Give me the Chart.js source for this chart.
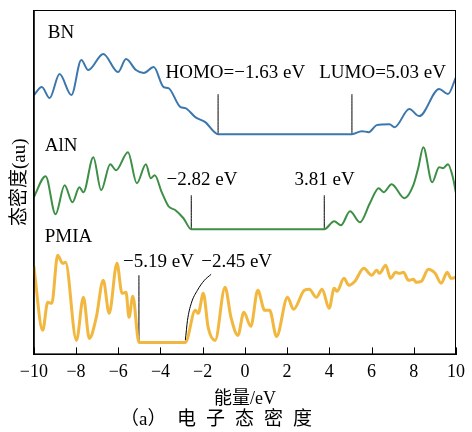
<!DOCTYPE html>
<html>
<head>
<meta charset="utf-8">
<script src="https://cdn.jsdelivr.net/npm/chart.js@4.4.1/dist/chart.umd.min.js"></script>
<style>
  html, body { margin: 0; padding: 0; background: #fff; }
</style>
</head>
<body>
<canvas id="dos" width="472" height="432"></canvas>
<script>
// energies (eV) and density of states (arbitrary units, curves stacked)
const bnE = [-10, -9.62, -9.25, -8.78, -8.22, -7.75, -7.42, -6.71, -6.01, -5.63, -5.16, -4.79, -4.32, -3.85, -3.62, -3.05, -2.82, -2.35, -1.88, -1.27, 5.07, 5.54, 5.87, 6.24, 6.85, 7.09, 7.79, 8.26, 9.20, 9.62, 10];
const bnDos = [259, 267, 256, 280, 259, 294, 284, 300, 282, 295, 284, 281, 287, 267, 266, 247, 246, 237, 232, 220, 220, 223, 222, 229, 230, 227, 245, 238, 265, 260, 277];

const alnE = [-10, -9.44, -8.97, -8.54, -8.17, -7.84, -7.65, -7.18, -6.81, -6.38, -6.10, -5.54, -5.12, -4.69, -4.46, -4.27, -3.94, -3.62, -3.29, -2.91, -2.54, 3.76, 4.23, 4.55, 4.98, 5.45, 5.92, 6.34, 6.57, 6.95, 7.56, 7.98, 8.22, 8.45, 8.87, 9.20, 9.39, 9.62, 9.86, 10];
const alnDos = [157, 178, 140, 169, 152, 167, 162, 197, 164, 190, 184, 202, 171, 190, 176, 179, 162, 148, 144, 136, 125, 125, 133, 129, 143, 132, 151, 166, 162, 170, 156, 169, 187, 207, 172, 187, 186, 190, 176, 161];

const pmiaE = [-10, -9.58, -9.34, -9.15, -8.87, -8.64, -8.50, -7.98, -7.65, -7.37, -7.04, -6.71, -6.43, -6.06, -5.82, -5.63, -5.49, -5.31, -5.02, -2.82, -2.35, -2.21, -1.97, -1.74, -1.41, -0.94, -0.66, -0.33, -0.05, 0.28, 0.61, 0.94, 1.17, 1.50, 2.02, 2.30, 2.82, 3.05, 3.38, 3.66, 3.99, 4.23, 4.37, 4.69, 4.93, 5.21, 5.63, 6.01, 6.24, 6.38, 6.67, 6.90, 7.14, 7.32, 7.51, 7.75, 7.98, 8.12, 8.36, 8.69, 9.01, 9.30, 9.58, 9.77, 10];
const pmiaDos = [88, 24, 52, 51, 99, 91, 92, 14, 57, 16, 37, 74, 41, 91, 61, 62, 37, 58, 12, 12, 44, 41, 61, 27, 14, 67, 37, 19, 42, 28, 64, 44, 44, 18, 57, 45, 64, 65, 57, 65, 46, 66, 63, 76, 69, 73, 86, 79, 84, 81, 89, 76, 82, 81, 82, 74, 75, 72, 73, 85, 81, 71, 82, 76, 77];

// HOMO / LUMO marker lines
const markE = [-1.27, 5.07, -2.54, 3.76, -5.02];
const markLow = [220, 220, 125, 125, 12];
const markHigh = [260, 260, 159, 159, 79];
const pmiaLumoE = [-2.82, -2.72, -2.54, -2.25, -1.92, -1.60];
const pmiaLumoDos = [14, 34, 51, 64, 74, 80];

// text labels
const labelText = ['BN', 'HOMO=\u22121.63 eV', 'LUMO=5.03 eV', 'AlN', '\u22122.82 eV', '3.81 eV', 'PMIA', '\u22125.19 eV', '\u22122.45 eV'];
const labelE = [-9.34, -3.76, 3.52, -9.48, -3.71, 2.35, -9.48, -5.77, -2.07];
const labelDos = [321, 281, 281, 208, 174, 174, 117, 92, 92];

const FONT = "'Liberation Serif', 'Noto Sans CJK SC', serif";

function pts(xs, ys) {
    return xs.map((x, i) => ({ x: x, y: ys[i] }));
}

const datasets = [
    { data: pts(bnE, bnDos), borderColor: '#3b77ad', borderWidth: 2 },
    { data: pts(alnE, alnDos), borderColor: '#3d8f45', borderWidth: 2 },
    { data: pts(pmiaE, pmiaDos), borderColor: '#f2b73e', borderWidth: 3 }
];
markE.forEach((e, i) => {
    datasets.push({ data: [{ x: e, y: markLow[i] }, { x: e, y: markHigh[i] }], borderColor: '#000', borderWidth: 1 });
});
datasets.push({ data: pts(pmiaLumoE, pmiaLumoDos), borderColor: '#000', borderWidth: 1 });

const decor = {
    id: 'decor',
    afterDraw(chart) {
        const ctx = chart.ctx;
        const a = chart.chartArea;
        const xs = chart.scales.x, ys = chart.scales.y;
        ctx.save();
        ctx.strokeStyle = '#000';
        ctx.lineWidth = 1;
        ctx.strokeRect(a.left + 0.5, a.top + 0.5, a.right - a.left - 1, a.bottom - a.top - 1);
        // inward tick marks
        ctx.beginPath();
        xs.ticks.forEach(t => {
            const px = Math.round(xs.getPixelForValue(t.value)) + 0.5;
            ctx.moveTo(px, a.bottom);
            ctx.lineTo(px, a.bottom - 7);
        });
        ctx.stroke();
        // annotations
        ctx.fillStyle = '#000';
        ctx.font = '19px ' + FONT;
        ctx.textAlign = 'left';
        ctx.textBaseline = 'middle';
        labelText.forEach((s, i) => {
            ctx.fillText(s, xs.getPixelForValue(labelE[i]), ys.getPixelForValue(labelDos[i]));
        });
        // caption
        ctx.font = '19px ' + FONT;
        ctx.fillText('\uff08a\uff09', 120, 420);
        ctx.letterSpacing = '10px';
        ctx.fillText('\u7535\u5b50\u6001\u5bc6\u5ea6', 177, 420);
        ctx.restore();
    }
};

new Chart(document.getElementById('dos'), {
    type: 'line',
    data: { datasets: datasets },
    options: {
        responsive: false,
        animation: false,
        layout: { padding: { left: 5, right: 10, top: 10, bottom: 24 } },
        elements: { point: { radius: 0 }, line: { cubicInterpolationMode: 'monotone' } },
        plugins: { legend: { display: false }, tooltip: { enabled: false } },
        scales: {
            x: {
                type: 'linear', min: -10, max: 10,
                grid: { display: false, drawTicks: false },
                border: { display: true, color: '#000', width: 1 },
                ticks: {
                    stepSize: 2, color: '#000', padding: 7, maxRotation: 0,
                    font: { family: FONT, size: 18 },
                    callback: v => String(v).replace('-', '\u2212')
                },
                title: {
                    display: true, text: '能量/eV', color: '#000',
                    font: { family: FONT, size: 18, lineHeight: 1 },
                    padding: { top: 0, bottom: 0 }
                }
            },
            y: {
                min: 0, max: 344,
                grid: { display: false, drawTicks: false },
                border: { display: true, color: '#000', width: 1 },
                ticks: { display: false },
                title: {
                    display: true, text: '态密度(au)', color: '#000',
                    font: { family: FONT, size: 19 },
                    padding: { top: 4, bottom: 2 }
                }
            }
        }
    },
    plugins: [decor]
});
</script>
</body>
</html>
